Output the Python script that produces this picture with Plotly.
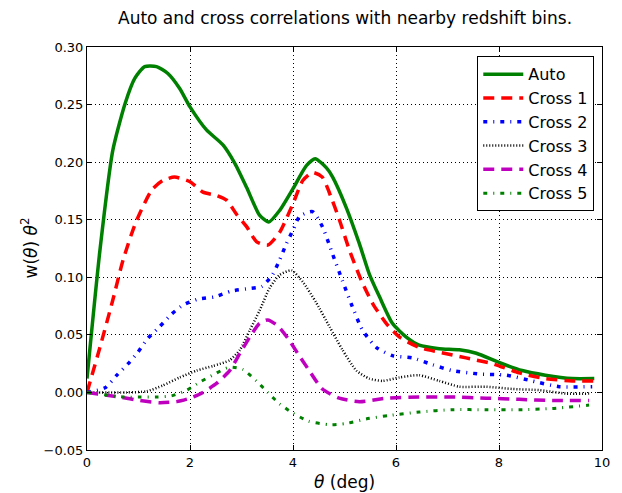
import plotly.graph_objects as go

# ---- data ----
auto_theta = [0.0, 0.25, 0.5, 0.74, 0.93, 1.12, 1.35, 1.57, 1.8, 2.0, 2.32, 2.64, 2.87, 3.1, 3.35, 3.53, 3.74, 4.0, 4.26, 4.43, 4.65, 4.77, 5.03, 5.29, 5.48, 5.68, 5.93, 6.2, 6.45, 6.84, 7.23, 7.56, 8.0, 8.45, 8.9, 9.42, 9.85]
auto_w = [0.012, 0.123, 0.21, 0.251, 0.273, 0.283, 0.283, 0.277, 0.264, 0.248, 0.228, 0.215, 0.199, 0.178, 0.154, 0.148, 0.158, 0.177, 0.197, 0.203, 0.195, 0.187, 0.161, 0.129, 0.103, 0.083, 0.060, 0.048, 0.041, 0.038, 0.037, 0.034, 0.026, 0.019, 0.015, 0.012, 0.012]

cross1_theta = [0.0, 0.25, 0.5, 0.7, 0.95, 1.26, 1.47, 1.7, 2.0, 2.25, 2.52, 2.71, 2.9, 3.1, 3.29, 3.51, 3.74, 4.0, 4.19, 4.38, 4.57, 4.71, 4.9, 5.1, 5.33, 5.55, 5.81, 6.07, 6.45, 6.84, 7.36, 7.87, 8.39, 8.9, 9.42, 9.85]
cross1_w = [0.0, 0.039, 0.08, 0.115, 0.148, 0.176, 0.184, 0.187, 0.183, 0.174, 0.171, 0.167, 0.155, 0.144, 0.131, 0.128, 0.139, 0.164, 0.184, 0.191, 0.187, 0.173, 0.150, 0.123, 0.097, 0.077, 0.060, 0.048, 0.039, 0.035, 0.030, 0.025, 0.017, 0.012, 0.010, 0.010]

cross2_theta = [0.0, 0.35, 0.58, 0.8, 0.99, 1.18, 1.41, 1.64, 1.87, 2.15, 2.48, 2.8, 3.1, 3.39, 3.6, 3.74, 3.87, 4.0, 4.13, 4.38, 4.57, 4.77, 4.96, 5.13, 5.35, 5.62, 5.93, 6.32, 6.71, 7.09, 7.62, 8.14, 8.64, 9.17, 9.81]
cross2_w = [0.0, 0.004, 0.015, 0.025, 0.035, 0.047, 0.057, 0.068, 0.076, 0.081, 0.083, 0.088, 0.090, 0.092, 0.102, 0.115, 0.129, 0.141, 0.153, 0.157, 0.144, 0.120, 0.097, 0.077, 0.054, 0.039, 0.032, 0.030, 0.024, 0.019, 0.016, 0.015, 0.010, 0.005, 0.005]

cross3_theta = [0.0, 0.77, 1.16, 1.47, 1.8, 2.13, 2.45, 2.77, 2.97, 3.16, 3.35, 3.55, 3.74, 3.97, 4.19, 4.45, 4.71, 4.96, 5.23, 5.48, 5.74, 6.07, 6.45, 6.84, 7.23, 7.75, 8.26, 8.78, 9.3, 9.75]
cross3_w = [0.0, 0.0, 0.001, 0.006, 0.013, 0.019, 0.023, 0.028, 0.037, 0.054, 0.071, 0.091, 0.102, 0.106, 0.096, 0.078, 0.057, 0.037, 0.019, 0.012, 0.010, 0.013, 0.015, 0.010, 0.005, 0.005, 0.003, 0.002, -0.001, -0.001]

cross4_theta = [0.0, 0.64, 1.03, 1.41, 1.74, 2.0, 2.25, 2.52, 2.77, 2.97, 3.16, 3.35, 3.51, 3.7, 3.9, 4.09, 4.3, 4.57, 4.9, 5.29, 5.81, 6.45, 7.09, 7.75, 8.39, 9.03, 9.75]
cross4_w = [0.0, -0.004, -0.007, -0.009, -0.008, -0.005, 0.0, 0.008, 0.019, 0.034, 0.048, 0.060, 0.063, 0.058, 0.047, 0.034, 0.020, 0.003, -0.005, -0.008, -0.005, -0.004, -0.004, -0.005, -0.006, -0.007, -0.007]

cross5_theta = [0.0, 0.7, 1.03, 1.36, 1.64, 1.94, 2.19, 2.48, 2.77, 3.02, 3.29, 3.51, 3.74, 4.0, 4.3, 4.71, 5.03, 5.42, 5.87, 6.45, 7.09, 7.75, 8.39, 9.03, 9.75]
cross5_w = [0.0, -0.004, -0.004, -0.004, -0.003, 0.002, 0.009, 0.016, 0.022, 0.020, 0.010, 0.0, -0.010, -0.018, -0.025, -0.028, -0.027, -0.023, -0.020, -0.017, -0.015, -0.015, -0.015, -0.014, -0.011]

series_names = ["Auto", "Cross 1", "Cross 2", "Cross 3", "Cross 4", "Cross 5"]
x_ticks = [0, 2, 4, 6, 8, 10]
y_ticks = [-0.05, 0.0, 0.05, 0.10, 0.15, 0.20, 0.25, 0.30]

# ---- styles ----
styles = [
    dict(color="#008000", width=3.5, dash="solid"),
    dict(color="#ff0000", width=3.5, dash="11px,7px"),
    dict(color="#0000ff", width=3.5, dash="4px,6px,1px,6px"),
    dict(color="#000000", width=2.5, dash="1px,2px"),
    dict(color="#bf00bf", width=3.5, dash="11px,7px"),
    dict(color="#008000", width=3, dash="4px,6px,1px,6px"),
]

data = [(auto_theta, auto_w), (cross1_theta, cross1_w), (cross2_theta, cross2_w),
        (cross3_theta, cross3_w), (cross4_theta, cross4_w), (cross5_theta, cross5_w)]

fig = go.Figure()
for name, (xs, ys), st in zip(series_names, data, styles):
    fig.add_trace(go.Scatter(x=xs, y=ys, mode="lines", name=name,
                             line=dict(shape="spline", smoothing=0.6, **st)))

font = "DejaVu Sans, sans-serif"
axis_common = dict(showline=True, linecolor="black", linewidth=1, mirror="allticks",
                   ticks="inside", ticklen=5, tickcolor="black",
                   showgrid=True, gridcolor="black", griddash="1px,3px", gridwidth=1,
                   zeroline=False, tickfont=dict(family=font, size=13, color="black"))

fig.update_layout(
    width=622, height=493,
    margin=dict(l=87, r=18, t=47, b=43),
    paper_bgcolor="white", plot_bgcolor="white",
    font=dict(family=font, color="black"),
    showlegend=True,
    legend=dict(x=0.985, y=0.977, xanchor="right", yanchor="top",
                bordercolor="black", borderwidth=1, bgcolor="white",
                font=dict(family=font, size=16, color="black"),
                tracegroupgap=0, itemwidth=40),
    xaxis=dict(range=[0, 10], tickvals=x_ticks, ticktext=[str(v) for v in x_ticks], **axis_common),
    yaxis=dict(range=[-0.05, 0.30], tickvals=y_ticks, tickformat=".2f", **axis_common),
    annotations=[
        dict(text="Auto and cross correlations with nearby redshift bins.", x=0.5, y=1,
             yshift=29, yanchor="middle",
             xref="paper", yref="paper", showarrow=False, font=dict(size=17, family=font)),
        dict(text="<i>θ</i> (deg)", xref="paper", yref="paper", x=0.5, y=0, yshift=-32,
             yanchor="middle", showarrow=False, font=dict(size=17, family=font)),
        dict(text="w(<i>θ</i>) <i>θ</i><sup>2</sup>", xref="paper", yref="paper", x=0, xshift=-58,
             xanchor="center", yanchor="middle",
             y=0.5, textangle=-90, showarrow=False, font=dict(size=17, family=font)),
    ],
)

fig.write_html("out.html", config={"displayModeBar": False},
               post_script="document.body.style.margin='0';document.body.style.overflow='hidden';")
